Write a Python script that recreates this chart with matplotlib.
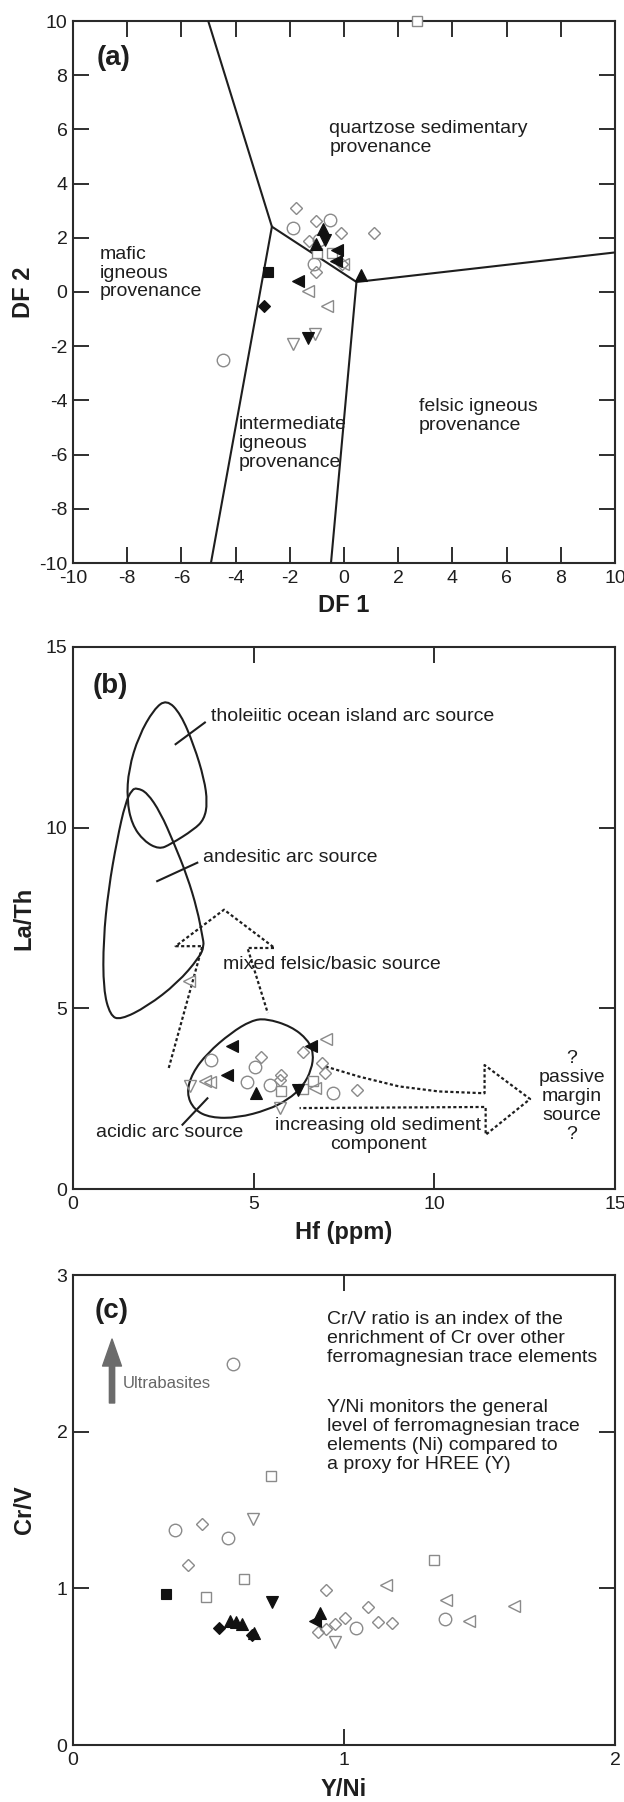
import numpy as np
import matplotlib
matplotlib.use("Agg")
import matplotlib.pyplot as plt
from matplotlib.path import Path
from matplotlib.patches import PathPatch

plt.rcParams['font.family'] = ['Liberation Sans', 'DejaVu Sans']
plt.rcParams['axes.unicode_minus'] = False

# ---------------- Panel (a) data: DF1 vs DF2 ----------------
a_open_circle_x = [-1.89, -0.51, -1.10, -0.92, -4.45]
a_open_circle_y = [2.36, 2.67, 1.04, 1.91, -2.50]
a_open_diamond_x = [-1.76, -1.04, -0.10, 1.12, -1.28, -1.05, -0.08]
a_open_diamond_y = [3.10, 2.61, 2.16, 2.17, 1.89, 0.73, 1.05]
a_open_square_x = [2.70, -0.98, -0.45]
a_open_square_y = [10.0, 1.43, 1.45]
a_open_tdown_x = [-1.89, -1.08]
a_open_tdown_y = [-1.92, -1.55]
a_open_tleft_x = [-1.34, -0.61, -0.02]
a_open_tleft_y = [0.04, -0.51, 1.02]
a_fill_square_x = [-2.81]
a_fill_square_y = [0.74]
a_fill_diamond_x = [-2.97]
a_fill_diamond_y = [-0.52]
a_fill_tup_x = [-0.76, -1.05, 0.62]
a_fill_tup_y = [2.32, 1.77, 0.62]
a_fill_tdown_x = [-1.34, -0.71]
a_fill_tdown_y = [-1.68, 1.91]
a_fill_tleft_x = [-1.71, -0.25, -0.31]
a_fill_tleft_y = [0.40, 1.54, 1.13]

# field boundaries
a_line1_x = [-5.01, -2.66, 0.46, 10.0]
a_line1_y = [10.0, 2.41, 0.37, 1.46]
a_line2_x = [-2.66, -4.91]
a_line2_y = [2.41, -10.0]
a_line3_x = [0.46, -0.48]
a_line3_y = [0.37, -10.0]

# ---------------- Panel (b) data: Hf vs La/Th ----------------
b_open_circle_x = [3.83, 5.05, 4.81, 5.44, 7.20]
b_open_circle_y = [3.56, 3.39, 2.96, 2.88, 2.65]
b_open_diamond_x = [5.20, 5.76, 5.74, 6.36, 6.89, 6.97, 7.85]
b_open_diamond_y = [3.65, 3.16, 3.02, 3.78, 3.48, 3.21, 2.74]
b_open_square_x = [5.76, 6.64, 6.36]
b_open_square_y = [2.70, 2.98, 2.77]
b_open_tdown_x = [3.24, 5.72]
b_open_tdown_y = [2.84, 2.24]
b_open_tleft_x = [3.21, 3.65, 3.79, 6.69, 6.99]
b_open_tleft_y = [5.75, 2.98, 2.95, 2.79, 4.15]
b_fill_tup_x = [5.07]
b_fill_tup_y = [2.65]
b_fill_tdown_x = [6.23]
b_fill_tdown_y = [2.74]
b_fill_tleft_x = [4.39, 4.26, 6.58]
b_fill_tleft_y = [3.96, 3.16, 3.96]

# source fields (closed outlines)
thol_x = [2.59, 2.98, 3.35, 3.63, 3.72, 3.63, 3.35, 2.70, 2.38, 1.96, 1.63, 1.49, 1.54, 1.82, 2.24]
thol_y = [13.55, 13.15, 12.27, 11.35, 10.69, 10.23, 9.95, 9.54, 9.40, 9.63, 10.09, 10.78, 11.62, 12.54, 13.28]
andes_x = [1.77, 2.05, 2.42, 2.79, 3.16, 3.44, 3.58, 3.63, 3.49, 2.89, 2.05, 1.31, 1.03, 0.84, 0.84, 0.98, 1.22, 1.45, 1.63]
andes_y = [11.10, 10.97, 10.42, 9.58, 8.66, 7.73, 7.00, 6.72, 6.40, 5.70, 5.05, 4.68, 4.80, 5.52, 6.90, 8.29, 9.67, 10.69, 11.05]
acid_x = [5.34, 6.04, 6.50, 6.66, 6.60, 6.36, 5.95, 5.39, 4.56, 3.81, 3.35, 3.14, 3.30, 3.72, 4.37, 4.93]
acid_y = [4.72, 4.50, 4.13, 3.76, 3.30, 2.84, 2.47, 2.19, 1.97, 1.97, 2.19, 2.65, 3.21, 3.76, 4.32, 4.66]
# dotted arrows
mix_x = [2.65, 3.58, 2.84, 4.18, 5.58, 4.83, 5.39]
mix_y = [3.35, 6.72, 6.72, 7.73, 6.67, 6.67, 4.87]
sed_x = [6.99, 7.92, 9.02, 10.12, 11.39, 11.39, 12.65, 11.42, 11.42, 6.27]
sed_y = [3.39, 3.11, 2.84, 2.70, 2.65, 3.43, 2.49, 1.50, 2.27, 2.24]
# leader lines
lead_thol_x = [2.84, 3.65]
lead_thol_y = [12.31, 12.91]
lead_andes_x = [2.33, 3.44]
lead_andes_y = [8.52, 9.03]
lead_acid_x = [3.03, 3.72]
lead_acid_y = [1.78, 2.51]

# ---------------- Panel (c) data: Y/Ni vs Cr/V ----------------
c_open_circle_x = [0.591, 0.377, 0.572, 1.044, 1.372]
c_open_circle_y = [2.430, 1.372, 1.319, 0.749, 0.802]
c_open_diamond_x = [0.477, 0.423, 0.935, 1.087, 1.127, 1.176, 1.003, 0.968, 0.935, 0.904]
c_open_diamond_y = [1.409, 1.149, 0.989, 0.879, 0.787, 0.781, 0.809, 0.772, 0.738, 0.723]
c_open_square_x = [0.729, 0.631, 0.489, 1.331]
c_open_square_y = [1.720, 1.060, 0.943, 1.181]
c_open_tdown_x = [0.665, 0.966]
c_open_tdown_y = [1.440, 0.660]
c_open_tleft_x = [1.154, 1.378, 1.461, 1.629]
c_open_tleft_y = [1.021, 0.926, 0.794, 0.889]
c_fill_square_x = [0.345]
c_fill_square_y = [0.962]
c_fill_diamond_x = [0.539, 0.660]
c_fill_diamond_y = [0.749, 0.700]
c_fill_tup_x = [0.580, 0.603, 0.625, 0.667, 0.912]
c_fill_tup_y = [0.790, 0.782, 0.772, 0.715, 0.845]
c_fill_tdown_x = [0.733]
c_fill_tdown_y = [0.915]
c_fill_tleft_x = [0.892]
c_fill_tleft_y = [0.794]

arrow_x = [0.144, 0.144]
arrow_y = [2.183, 2.591]

# ---------------- styling ----------------
GREY = '#8a8a8a'
INK = '#1e1e1e'
MS = {'o': 9.0, 'D': 6.5, 's': 7.6, 'v': 8.8, '^': 8.8, '<': 8.8}
TXT = 14

fig = plt.figure(figsize=(6.24, 18.02), dpi=100)
L, W = 73 / 624, 542 / 624
ax_a = fig.add_axes([L, 1 - 563 / 1802, W, 542 / 1802])
ax_b = fig.add_axes([L, 1 - 1189 / 1802, W, 542 / 1802])
ax_c = fig.add_axes([L, 1 - 1745 / 1802, W, 470 / 1802])


def style_axes(ax, xlim, ylim, xt, yt):
    ax.set_xlim(*xlim)
    ax.set_ylim(*ylim)
    ax.set_xticks(xt)
    ax.set_yticks(yt)
    ax.tick_params(direction='in', length=11.5, width=1.3, top=True, right=True,
                   labelsize=14, colors=INK)
    ax.tick_params(axis='x', pad=5)
    ax.tick_params(axis='y', pad=4)
    for s in ax.spines.values():
        s.set_linewidth(1.5)
        s.set_color('#2a2a2a')


def open_pts(ax, x, y, m, face='none'):
    ax.plot(x, y, linestyle='none', marker=m, ms=MS[m], mfc=face, mec=GREY,
            mew=1.0, zorder=5, clip_on=False)


def fill_pts(ax, x, y, m):
    ax.plot(x, y, linestyle='none', marker=m, ms=MS[m], mfc='#111111', mec='#111111',
            mew=0.8, zorder=6, clip_on=False)


def closed_curve(ax, xs, ys):
    pts = np.column_stack([xs, ys])
    mids = (pts + np.roll(pts, -1, axis=0)) / 2.0
    verts = [mids[-1]]
    codes = [Path.MOVETO]
    for i in range(len(pts)):
        verts += [pts[i], mids[i]]
        codes += [Path.CURVE3, Path.CURVE3]
    ax.add_patch(PathPatch(Path(verts, codes), facecolor='none', edgecolor=INK,
                           lw=1.5, zorder=3))


# ---------- (a) ----------
style_axes(ax_a, (-10, 10), (-10, 10), np.arange(-10, 11, 2), np.arange(-10, 11, 2))
for lx, ly in [(a_line1_x, a_line1_y), (a_line2_x, a_line2_y), (a_line3_x, a_line3_y)]:
    ax_a.plot(lx, ly, color=INK, lw=1.5, zorder=3)
open_pts(ax_a, a_open_circle_x, a_open_circle_y, 'o')
open_pts(ax_a, a_open_diamond_x, a_open_diamond_y, 'D')
open_pts(ax_a, a_open_square_x, a_open_square_y, 's', face='white')
open_pts(ax_a, a_open_tdown_x, a_open_tdown_y, 'v')
open_pts(ax_a, a_open_tleft_x, a_open_tleft_y, '<')
fill_pts(ax_a, a_fill_square_x, a_fill_square_y, 's')
fill_pts(ax_a, a_fill_diamond_x, a_fill_diamond_y, 'D')
fill_pts(ax_a, a_fill_tup_x, a_fill_tup_y, '^')
fill_pts(ax_a, a_fill_tdown_x, a_fill_tdown_y, 'v')
fill_pts(ax_a, a_fill_tleft_x, a_fill_tleft_y, '<')
ax_a.text(-9.12, 8.62, '(a)', fontsize=20, fontweight='bold', ha='left', va='center', color=INK)
ax_a.text(-0.54, 5.67, 'quartzose sedimentary\nprovenance', fontsize=TXT, ha='left', va='center',
          linespacing=1.15, color=INK)
ax_a.text(-9.0, 0.70, 'mafic\nigneous\nprovenance', fontsize=TXT, ha='left', va='center',
          linespacing=1.15, color=INK)
ax_a.text(-3.87, -5.59, 'intermediate\nigneous\nprovenance', fontsize=TXT, ha='left', va='center',
          linespacing=1.15, color=INK)
ax_a.text(2.77, -4.57, 'felsic igneous\nprovenance', fontsize=TXT, ha='left', va='center',
          linespacing=1.15, color=INK)

# ---------- (b) ----------
style_axes(ax_b, (0, 15), (0, 15), [0, 5, 10, 15], [0, 5, 10, 15])
closed_curve(ax_b, thol_x, thol_y)
closed_curve(ax_b, andes_x, andes_y)
closed_curve(ax_b, acid_x, acid_y)
dot = (0, (1.4, 1.1))
ax_b.plot(mix_x, mix_y, color=INK, lw=1.6, linestyle=dot, zorder=3)
ax_b.plot(sed_x, sed_y, color=INK, lw=1.6, linestyle=dot, zorder=3)
for lx, ly in [(lead_thol_x, lead_thol_y), (lead_andes_x, lead_andes_y), (lead_acid_x, lead_acid_y)]:
    ax_b.plot(lx, ly, color=INK, lw=1.5, zorder=3)
open_pts(ax_b, b_open_circle_x, b_open_circle_y, 'o')
open_pts(ax_b, b_open_diamond_x, b_open_diamond_y, 'D')
open_pts(ax_b, b_open_square_x, b_open_square_y, 's')
open_pts(ax_b, b_open_tdown_x, b_open_tdown_y, 'v')
open_pts(ax_b, b_open_tleft_x, b_open_tleft_y, '<')
fill_pts(ax_b, b_fill_tup_x, b_fill_tup_y, '^')
fill_pts(ax_b, b_fill_tdown_x, b_fill_tdown_y, 'v')
fill_pts(ax_b, b_fill_tleft_x, b_fill_tleft_y, '<')
ax_b.text(0.55, 13.92, '(b)', fontsize=20, fontweight='bold', ha='left', va='center', color=INK)
ax_b.text(3.81, 13.09, 'tholeiitic ocean island arc source', fontsize=TXT, ha='left', va='center', color=INK)
ax_b.text(3.61, 9.17, 'andesitic arc source', fontsize=TXT, ha='left', va='center', color=INK)
ax_b.text(4.14, 6.21, 'mixed felsic/basic source', fontsize=TXT, ha='left', va='center', color=INK)
ax_b.text(2.68, 1.55, 'acidic arc source', fontsize=TXT, ha='center', va='center', color=INK)
ax_b.text(8.44, 1.50, 'increasing old sediment\ncomponent', fontsize=TXT, ha='center', va='center',
          multialignment='center', linespacing=1.15, color=INK)
ax_b.text(13.81, 2.55, '?\npassive\nmargin\nsource\n?', fontsize=TXT, ha='center', va='center',
          multialignment='center', linespacing=1.15, color=INK)

# ---------- (c) ----------
style_axes(ax_c, (0, 2), (0, 3), [0, 1, 2], [0, 1, 2, 3])
open_pts(ax_c, c_open_circle_x, c_open_circle_y, 'o')
open_pts(ax_c, c_open_diamond_x, c_open_diamond_y, 'D')
open_pts(ax_c, c_open_square_x, c_open_square_y, 's')
open_pts(ax_c, c_open_tdown_x, c_open_tdown_y, 'v')
open_pts(ax_c, c_open_tleft_x, c_open_tleft_y, '<')
fill_pts(ax_c, c_fill_square_x, c_fill_square_y, 's')
fill_pts(ax_c, c_fill_diamond_x, c_fill_diamond_y, 'D')
fill_pts(ax_c, c_fill_tup_x, c_fill_tup_y, '^')
fill_pts(ax_c, c_fill_tdown_x, c_fill_tdown_y, 'v')
fill_pts(ax_c, c_fill_tleft_x, c_fill_tleft_y, '<')
ax_c.annotate('', xy=(arrow_x[1], arrow_y[1]), xytext=(arrow_x[0], arrow_y[0]),
              arrowprops=dict(arrowstyle='simple,head_length=0.97,head_width=0.68,tail_width=0.19',
                              color='#6b6b6b', shrinkA=0, shrinkB=0, mutation_scale=20))
ax_c.text(0.08, 2.77, '(c)', fontsize=20, fontweight='bold', ha='left', va='center', color=INK)
ax_c.text(0.183, 2.31, 'Ultrabasites', fontsize=12, ha='left', va='center', color='#666666')
ax_c.text(0.939, 2.597, 'Cr/V ratio is an index of the\nenrichment of Cr over other\n'
          'ferromagnesian trace elements', fontsize=TXT, ha='left', va='center',
          linespacing=1.15, color=INK)
ax_c.text(0.939, 1.972, 'Y/Ni monitors the general\nlevel of ferromagnesian trace\n'
          'elements (Ni) compared to\na proxy for HREE (Y)', fontsize=TXT, ha='left', va='center',
          linespacing=1.15, color=INK)

# ---------- axis labels ----------
XC = (73 + 542 / 2) / 624
lab = dict(fontsize=17, fontweight='bold', color=INK, ha='center', va='center')
fig.text(XC, 1 - 606 / 1802, 'DF 1', **lab)
fig.text(XC, 1 - 1232 / 1802, 'Hf (ppm)', **lab)
fig.text(XC, 1 - 1789 / 1802, 'Y/Ni', **lab)
fig.text(24 / 624, 1 - 292 / 1802, 'DF 2', rotation=90, **lab)
fig.text(24 / 624, 1 - 918 / 1802, 'La/Th', rotation=90, **lab)
fig.text(24 / 624, 1 - 1510 / 1802, 'Cr/V', rotation=90, **lab)

fig.savefig('out.png', dpi=100)
